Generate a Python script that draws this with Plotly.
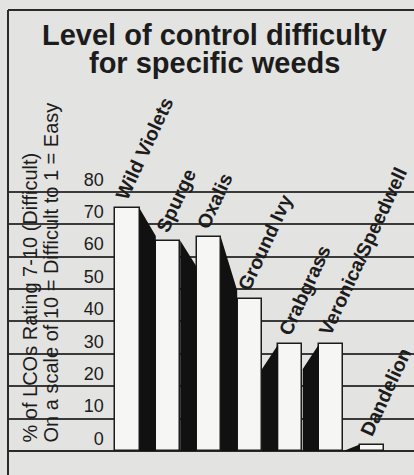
import plotly.graph_objects as go

# ---- data ----
weeds = ["Wild Violets", "Spurge", "Oxalis", "Ground Ivy", "Crabgrass",
         "Veronica/Speedwell", "Dandelion"]
pct_difficult = [75, 65, 66, 47, 33, 33, 2]
y_ticks = [0, 10, 20, 30, 40, 50, 60, 70, 80]
y_ticktext = ["0", "10", "20", "30", "40", "50", "60", "70", "80"]
title_lines = ["Level of control difficulty", "for specific weeds"]
ytitle_lines = ["% of LCOs Rating 7-10 (Difficult)",
                "On a scale of 10 = Difficult to 1 = Easy"]

# ---- style ----
BG = "#e3e3e1"
INK = "#1c1c1c"
BAR_FILL = "#f6f6f4"
BAR_W = 0.59
SHADOW_W = 0.40
shadow_drop = [8.6, 8.0, 16.4, 0.0, 7.7, 7.7, 2.0]
center_idx = 3
FONT = "Liberation Sans, Arial, Helvetica, sans-serif"

fig = go.Figure()

xs = list(range(len(weeds)))
fig.add_trace(go.Bar(
    x=xs, y=pct_difficult, width=BAR_W,
    marker=dict(color=BAR_FILL, line=dict(color=INK, width=1.5)),
    hoverinfo="skip", showlegend=False,
))

# perspective "side" shadows
sx, sy = [], []
hw = BAR_W / 2
for i, v in enumerate(pct_difficult):
    if i == center_idx:
        continue
    d = min(shadow_drop[i], v)
    if i < center_idx:
        x0 = i + hw
        x1 = x0 + SHADOW_W
    else:
        x0 = i - hw
        x1 = x0 - SHADOW_W
    sx += [x0, x0, x1, x1, x0, None]
    sy += [0, v, v - d, 0, 0, None]
fig.add_trace(go.Scatter(
    x=sx, y=sy, mode="lines", fill="toself", fillcolor="#111111",
    line=dict(width=0, color="#111111"), hoverinfo="skip", showlegend=False,
))

annotations = []
for i, (w, v) in enumerate(zip(weeds, pct_difficult)):
    annotations.append(dict(
        x=i - hw, y=v, xref="x", yref="y", text=w, showarrow=False,
        textangle=-65, xanchor="left", yanchor="bottom",
        xshift=-7, yshift=3,
        font=dict(family=FONT, size=19.5, color=INK, weight="bold"),
    ))

# title (two tightly spaced lines)
for line, yp in zip(title_lines, [0.9462, 0.8860]):
    annotations.append(dict(
        x=0.508, y=yp, xref="paper", yref="paper", text=f"<b>{line}</b>",
        showarrow=False, xanchor="center", yanchor="middle",
        font=dict(family=FONT, size=29, color=INK),
    ))

# y-axis title (rotated, two lines, bottom aligned)
for line, xp in zip(ytitle_lines, [0.053, 0.1047]):
    annotations.append(dict(
        x=xp, y=0.0645, xref="paper", yref="paper", text=line,
        showarrow=False, textangle=-90, xanchor="center", yanchor="bottom",
        font=dict(family=FONT, size=20, color=INK),
    ))

fig.update_layout(
    width=414, height=475,
    margin=dict(l=8, r=0, t=10, b=0),
    paper_bgcolor=BG, plot_bgcolor=BG,
    bargap=0, showlegend=False,
    annotations=annotations,
    xaxis=dict(range=[-2.936, 7.039], showticklabels=False, showgrid=False,
               zeroline=False, showline=False, ticks="", fixedrange=True),
    yaxis=dict(range=[-7.41, 136.2], tickvals=y_ticks, ticktext=y_ticktext,
               showgrid=True, gridcolor="#3a3a3a", gridwidth=1.6,
               zeroline=True, zerolinecolor="#2a2a2a", zerolinewidth=2,
               showline=False, ticks="", anchor="free", position=0.236,
               ticklabelposition="outside top",
               tickfont=dict(family=FONT, size=18, color=INK),
               fixedrange=True),
    shapes=[
        dict(type="line", xref="paper", yref="paper", x0=0, x1=0, y0=0, y1=1,
             line=dict(color="#2a2a2a", width=2)),
        dict(type="line", xref="paper", yref="paper", x0=0, x1=1, y0=1, y1=1,
             line=dict(color="#2a2a2a", width=2)),
    ],
)

fig.write_html(
    "out.html",
    config={"displayModeBar": False, "responsive": False},
    post_script="document.body.style.margin='0';document.body.style.overflow='hidden';",
)
